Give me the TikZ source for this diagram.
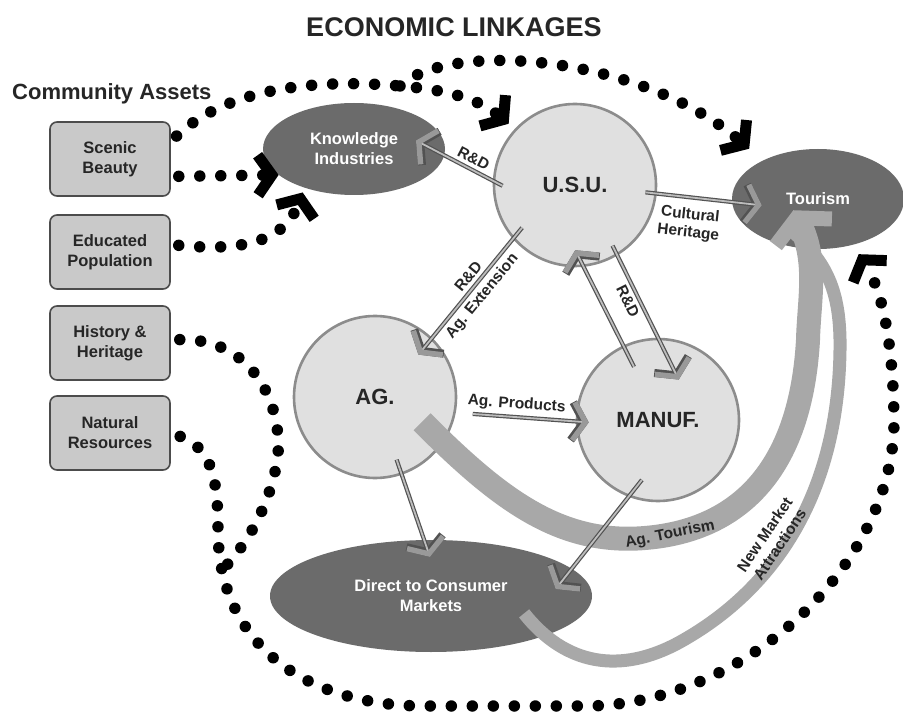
\documentclass[tikz,border=0pt]{standalone}
\usepackage{fontspec}
\setmainfont{Liberation Sans}
\usetikzlibrary{arrows.meta, shapes.geometric}

\begin{document}
\begin{tikzpicture}[x=1pt, y=-1pt,
        %Styles
        Asset/.style={
            draw=black!70, line width=1.6pt, fill=black!21,
            rounded corners=7pt,
            minimum width=120pt, minimum height=74pt,
            align=center, text=black!85,
            font=\fontsize{16.5}{20}\selectfont\bfseries,
        },
        Hub/.style={
            circle, draw=black!45, line width=2.6pt, fill=black!12,
            minimum size=162pt, text=black!85,
            font=\fontsize{22}{26}\selectfont\bfseries,
        },
        Market/.style={
            ellipse, fill=black!58, inner sep=0pt,
            align=center, text=white,
            font=\fontsize{16.5}{20}\selectfont\bfseries,
        },
        Link/.style={
            draw=black!68, line width=4.2pt,
            -{Straight Barb[sharp, length=12pt, width=38pt, line width=8pt]},
            postaction={draw=black!26, line width=1.8pt,
                -{Straight Barb[sharp, length=12pt, width=38pt, line width=5.4pt, color=black!40]}},
        },
        Band/.style={draw=black!34, line width=#1},
        Dots/.style={
            line width=11.5pt, line cap=round, dash pattern=on 0pt off 21pt,
            -{Straight Barb[sharp, length=14pt, width=40pt, line width=11pt]},
        },
        Lab/.style={
            text=black!85, align=center,
            font=\fontsize{15.5}{18}\selectfont\bfseries,
        },
    ]

\useasboundingbox (0,0) rectangle (903,714);
\fill[white] (0,0) rectangle (903,714);

%titles
\node[text=black!85, font=\fontsize{27}{32}\selectfont\bfseries] (title) at (454,27) {ECONOMIC LINKAGES};
\node[anchor=west, inner sep=0pt, text=black!85, font=\fontsize{22}{26}\selectfont\bfseries] (assets) at (12,94) {Community Assets};

%community assets
\foreach \name/\txt/\ypos in {scenic/{Scenic\\Beauty}/159, educ/{Educated\\Population}/252,
        hist/{History \&\\Heritage}/343, nat/{Natural\\Resources}/433}
    \node[Asset] (\name) at (110,\ypos) {\txt};

%sectors
\node[Market, minimum width=182pt, minimum height=92pt] (know) at (354,149) {Knowledge\\Industries};
\node[Hub] (usu) at (575,185) {U.S.U.};
\node[Market, minimum width=172pt, minimum height=100pt] (tour) at (818,199) {Tourism};
\node[Hub] (ag) at (375,397) {AG.};
\node[Hub] (manuf) at (658,420) {MANUF.};
\node[Market, minimum width=322pt, minimum height=112pt] (dtc) at (431,596) {Direct to Consumer\\Markets};

%tourism bands
\draw[Band=13pt, shorten <=-29.6pt, shorten >=-26pt]
  (dtc.340) .. controls (565,665) and (620,675) .. (680,642)
  .. controls (770,592) and (838,500) .. node[Lab, sloped, pos=0.45, above=-10pt]{New Market\\Attractions} (840,350)
  .. controls (841,290) and (826,262) .. (tour.263);
\draw[Band=24pt, shorten <=-30pt, shorten >=-43pt,
      -{Straight Barb[sharp, length=16pt, width=62pt, line width=15pt]}]
  (ag.326) .. controls (500,500) and (560,545) .. (645,538)
  .. controls (730,531) and (800,480) .. node[Lab, sloped, pos=0.1]{Ag. Tourism} (808,340)
  .. controls (809,300) and (818,262) .. (tour.263);

%links between sectors
\draw[Link, shorten <=-11pt, shorten >=-32pt] (usu.177) -- node[Lab, sloped, above]{R\&D} (know.356);
\draw[Link, shorten <=-11.5pt, shorten >=-30pt] (usu.354) -- node[Lab, sloped, below=5pt, pos=0.47]{Cultural\\Heritage} (tour.182);
\draw[Link, shorten <=-14.6pt, shorten >=-21.7pt] (usu.221) --
  node[Lab, sloped, above, pos=0.45]{R\&D} node[Lab, sloped, below]{Ag. Extension} (ag.46);
\draw[Link, shorten <=-24pt, shorten >=-18.6pt] (manuf.115) -- (usu.276);
\draw[Link, shorten <=-11pt, shorten >=-46.7pt] (usu.301) -- node[Lab, sloped, below]{R\&D} (manuf.90);
\draw[Link, shorten <=17pt, shorten >=-13pt] (ag.349) -- node[Lab, sloped, above]{Ag. Products} (manuf.181);
\draw[Link, shorten <=-16pt, shorten >=-18pt] (ag.289) -- (dtc.97);
\draw[Link, shorten <=-21.6pt, shorten >=-26pt] (manuf.249) -- (dtc.11);

%asset flows
\coordinate (fork) at (400,86);
\coordinate (merge) at (226,566);
\draw[Dots, shorten <=8pt, shorten >=8pt]
  (scenic.16) .. controls (225,90) and (310,78) .. (fork) .. controls (450,90) and (480,100) .. (usu.137);
\draw[Dots, shorten >=18pt] (fork) .. controls (450,40) and (640,55) .. (tour.145);
\draw[Dots, shorten <=8pt] (scenic.-16) -- (know.199);
\draw[Dots, shorten <=8pt, shorten >=5pt] (educ.7) .. controls (245,252) and (285,240) .. (know.218);
\draw[Dots, -, shorten <=9pt]
  (hist.3) .. controls (250,338) and (282,400) .. (278,455) .. controls (272,500) and (250,540) .. (merge);
\draw[Dots, shorten <=10pt, shorten >=11pt]
  (nat.east) .. controls (212,448) and (218,480) .. (218,530)
  .. controls (218,640) and (300,704) .. (420,706) -- (590,706)
  .. controls (750,702) and (895,560) .. (894,420)
  .. controls (893,340) and (882,290) .. (tour.307);

\end{tikzpicture}
\end{document}
